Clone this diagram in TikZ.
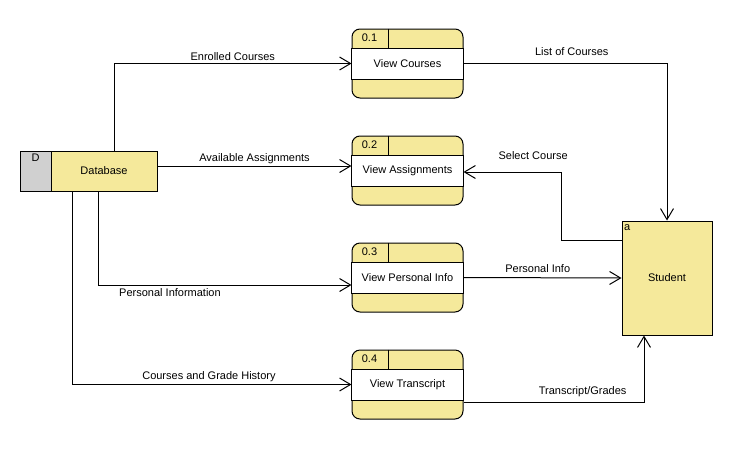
\documentclass[tikz,border=0pt]{standalone}
\usepackage{fontspec}
\setmainfont{Liberation Sans}
\usetikzlibrary{arrows.meta}
\definecolor{dfdyellow}{RGB}{245,233,155}
\definecolor{dfdgray}{RGB}{208,208,208}
\tikzset{
	box/.style={draw, line width=1pt, inner sep=0pt},
	process/.style={box, fill=dfdyellow, rounded corners=8pt, minimum width=111pt, minimum height=69pt},
	flow/.style={line width=1pt, -{Straight Barb[length=11pt,width=13pt]}},
	flowlabel/.style={inner sep=2pt},
}
\begin{document}
\begin{tikzpicture}[x=1pt,y=-1pt,font=\fontsize{11}{13}\selectfont]
		\useasboundingbox (0,0) rectangle (754,466);

		% data store and external entity
		\node[box, fill=dfdgray, minimum width=31pt, minimum height=40pt] (dbid) at (35.5,171) {};
		\node[box, fill=dfdyellow, minimum width=106pt, minimum height=40pt] (db) at (104,171) {Database};
		\node at ([yshift=-7pt]dbid.north) {D};
		\node[box, fill=dfdyellow, minimum width=90pt, minimum height=114pt] (stu) at (667,278) {Student};
		\node[anchor=north west, inner sep=2.5pt] at ([yshift=-1.5pt]stu.north west) {a};

		% processes
		\node[process] (p1) at (407.5,63.5) {};
		\node[process] (p2) at (407.5,170.5) {};
		\node[process] (p3) at (407.5,277.5) {};
		\node[process] (p4) at (407.5,384.5) {};
		\foreach \n/\id/\txt in {p1/0.1/View Courses, p2/0.2/View Assignments, p3/0.3/View Personal Info, p4/0.4/View Transcript} {
			\filldraw[fill=white, line width=1pt] ([yshift=15.5pt]\n.west) rectangle ([yshift=-15.5pt]\n.east);
			\draw[line width=1pt] ([xshift=37pt]\n.north west) -- ([xshift=37pt,yshift=-19pt]\n.north west);
			\node at ([xshift=18pt,yshift=-9.5pt]\n.north west) {\id};
			\node at (\n) {\txt};
		}

		% flows
		\coordinate (selbend) at (561,172);
		\draw[flow] ([xshift=10pt]db.north) |- (p1.west) node[flowlabel, pos=0.75, above] {Enrolled Courses};
		\draw[flow] ([yshift=5pt]db.east) -- ([yshift=4.5pt]p2.west) node[flowlabel, midway, above] {Available Assignments};
		\draw[flow] ([xshift=-6pt]db.south) |- ([yshift=-7.5pt]p3.west) node[flowlabel, pos=0.642, below=1pt] {Personal Information};
		\draw[flow] ([xshift=-32pt]db.south) |- (p4.west) node[flowlabel, pos=0.745, above] {Courses and Grade History};
		\draw[flow] (p1.east) -| (stu.north) node[flowlabel, pos=0.266, above=5pt] {List of Courses};
		\draw[flow] ([yshift=38pt]stu.west) -| (selbend) -- (selbend -| p2.east) node[flowlabel, pos=0.286, above=10pt] {Select Course};
		\draw[flow] (p3.east) -- (stu.west) node[flowlabel, pos=0.47, above=3pt] {Personal Info};
		\draw[flow] ([yshift=-17.5pt]p4.east) -| ([xshift=-23pt]stu.south) node[flowlabel, pos=0.33, above=3pt] {Transcript/Grades};
	\end{tikzpicture}
\end{document}
